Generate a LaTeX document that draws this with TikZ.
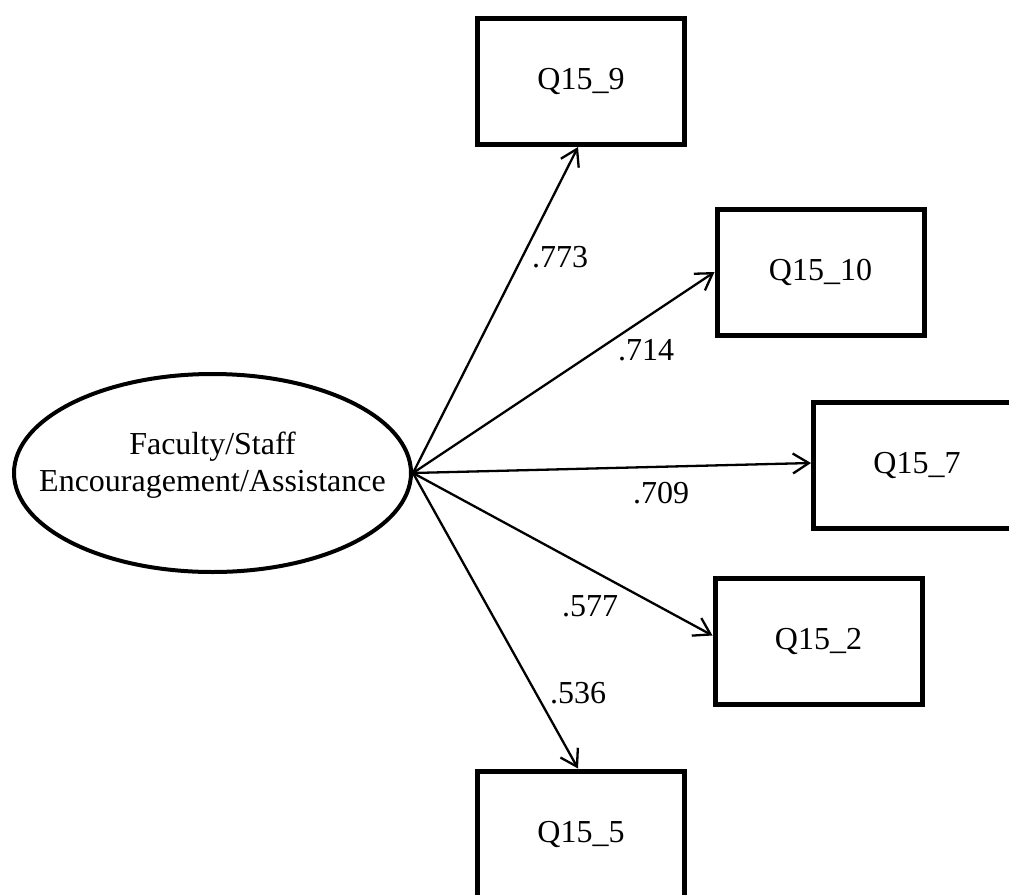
\documentclass[tikz,border=0pt]{standalone}
\usepackage{fontspec}
\setmainfont{Liberation Serif}
\usetikzlibrary{shapes.geometric,arrows.meta,calc}
\begin{document}
\begin{tikzpicture}[x=1pt,y=-1pt,
  every node/.style={font=\fontsize{32}{37}\selectfont},
  item/.style={draw, line width=5pt, rectangle, minimum width=207pt,
    minimum height=126pt, inner sep=0pt},
  latent/.style={draw, line width=4pt, ellipse, minimum width=397pt,
    minimum height=198pt, inner sep=0pt},
  load/.style={line width=2.3pt,
    -{Straight Barb[length=16pt,width=20pt,line width=2.3pt]}},
  coef/.style={anchor=base, inner sep=0pt}]
\useasboundingbox (0,0) rectangle (1009,894);

% latent factor
\node[latent] (f) at (212.5,473) {};
\node[align=center, inner sep=0pt] (ft) at (212.5,465)
  {Faculty/Staff\\Encouragement/Assistance};

% indicator items
\node[item] (q9)  at (581,81.5)  {Q15\_9};
\node[item] (q10) at (820.5,272) {Q15\_10};
\node[item] (q7)  at (917,465)   {Q15\_7};
\node[item] (q2)  at (818.5,641.5) {Q15\_2};
\node[item] (q5)  at (581,834)   {Q15\_5};

% loadings
\draw[load] (f.east) -- ($(q9.south)+(-3,0)$);
\draw[load] (f.east) -- (q10.west);
\draw[load] (f.east) -- ($(q7.west)+(0,-2)$);
\draw[load] (f.east) -- ($(q2.west)+(0,-6)$);
\draw[load] (f.east) -- ($(q5.north)+(-3,0)$);

% coefficients
\node[coef] (l9)  at (560,267) {.773};
\node[coef] (l10) at (646,360) {.714};
\node[coef] (l7)  at (661,503) {.709};
\node[coef] (l2)  at (590,616) {.577};
\node[coef] (l5)  at (578,703) {.536};
\end{tikzpicture}
\end{document}
